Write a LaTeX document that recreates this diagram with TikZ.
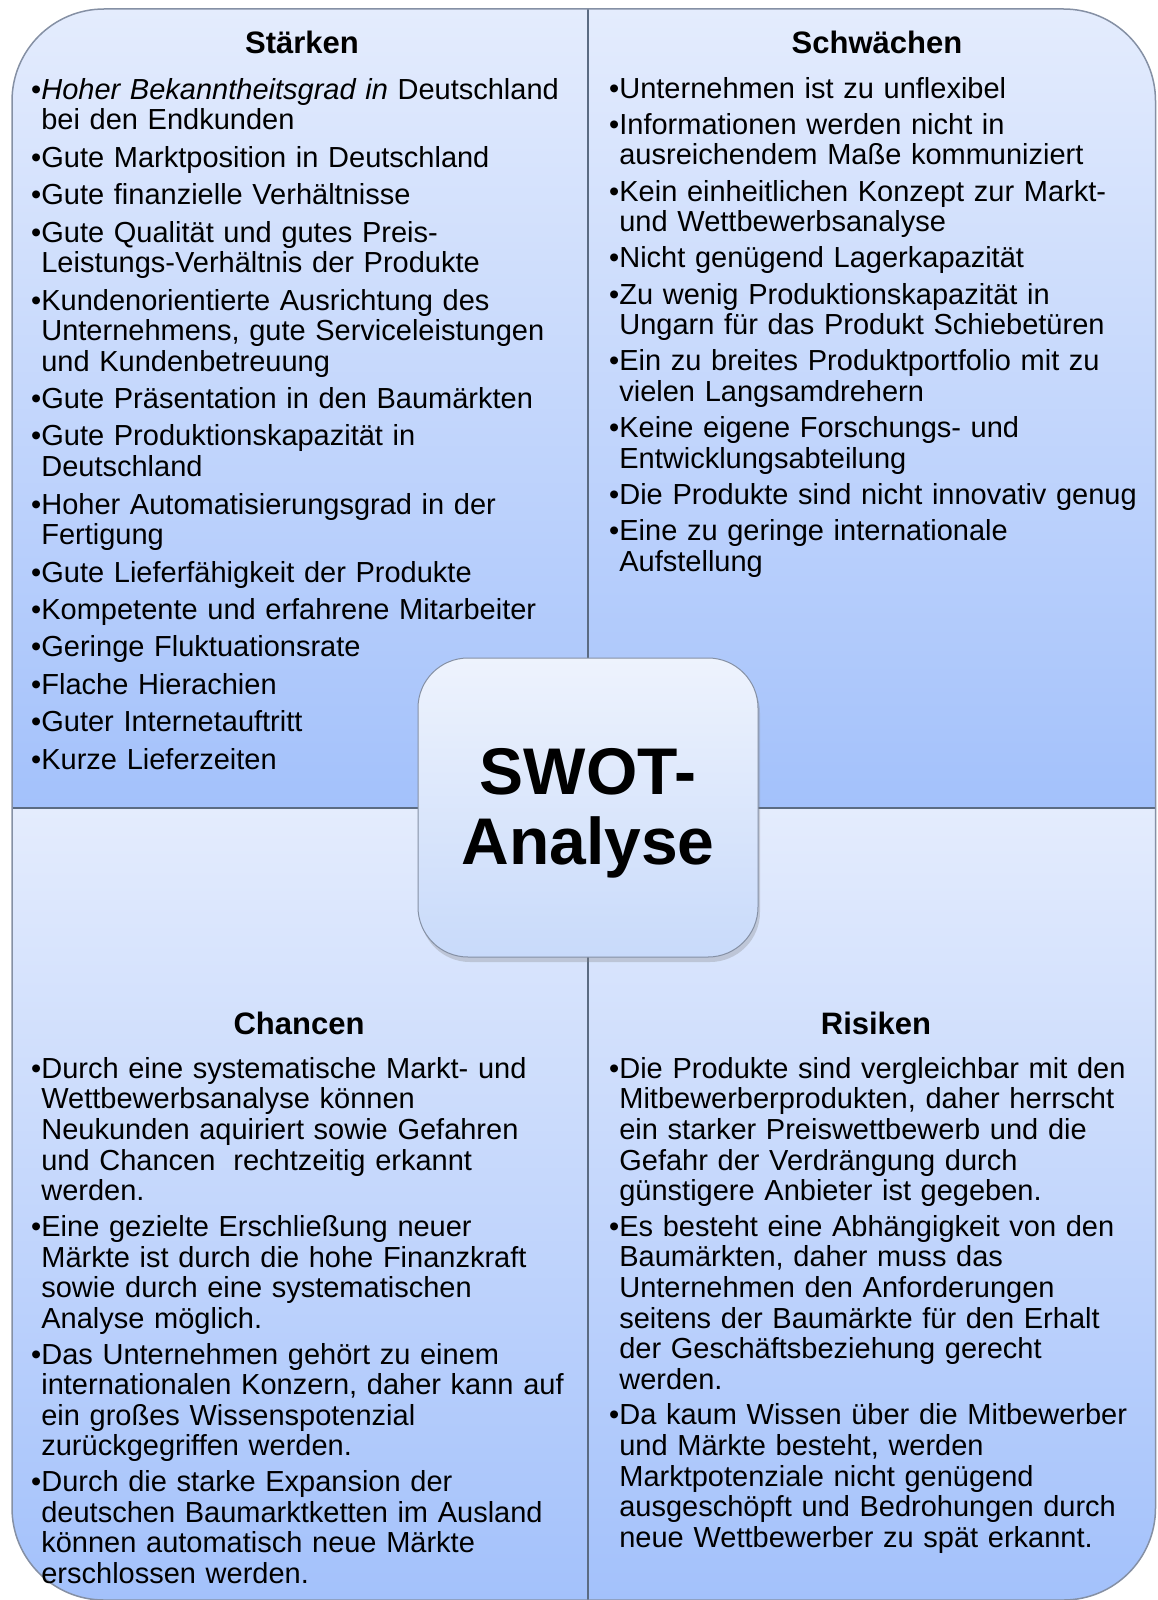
\documentclass[tikz,border=0pt]{standalone}
\usepackage{fontspec}
\setmainfont{Liberation Sans}
\usetikzlibrary{shadows}
\definecolor{qtop}{HTML}{E4ECFD}
\definecolor{qbot}{HTML}{A3C1FB}
\definecolor{btop}{HTML}{EEF3FD}
\definecolor{bbot}{HTML}{C8DAFA}
\definecolor{divline}{HTML}{5B6B82}
\definecolor{edgecol}{HTML}{8590A4}
\newlength{\bulw}
\newlength{\itsep}
\newcommand{\qfont}{\fontsize{29}{30.6}\selectfont}
\newcommand{\fitm}[1]{\noindent\settowidth{\bulw}{•}\hangindent=\bulw\hangafter=1 •\rule{0pt}{25pt}#1\par}
\newcommand{\itm}[1]{\vspace{\itsep}\noindent\settowidth{\bulw}{•}\hangindent=\bulw\hangafter=1 •#1\par}
\tikzset{
  qtext/.style={anchor=north west, inner sep=0pt, text width=560pt, align=left, font=\qfont},
  qtitle/.style={anchor=base, inner sep=0pt, font=\fontsize{31}{34}\selectfont\bfseries},
  quadfill/.style={top color=qtop, bottom color=qbot},
  centerbox/.style={rounded corners=50pt, draw=edgecol, line width=1pt, top color=btop, bottom color=bbot,
    minimum width=340pt, minimum height=299pt, inner sep=0pt,
    drop shadow={opacity=0.3, shadow xshift=2pt, shadow yshift=-5pt}},
  divider/.style={draw=divline, line width=2pt}
}
\begin{document}
\begin{tikzpicture}[x=1pt,y=-1pt]
\useasboundingbox (0,0) rectangle (1157,1600);
% quadrants
\begin{scope}
  \clip[rounded corners=92pt] (12,9) rectangle (1155.5,1600);
  \shade[quadfill] (12,9) rectangle (588,808);
  \shade[quadfill] (588,9) rectangle (1157,808);
  \shade[quadfill] (12,808) rectangle (588,1600);
  \shade[quadfill] (588,808) rectangle (1157,1600);
  \draw[divider] (588,0) -- (588,1600);
  \draw[divider] (0,808) -- (1157,808);
\end{scope}
\draw[edgecol, line width=1.5pt, rounded corners=92pt] (12,9) rectangle (1155.5,1600);
% titles
\node[qtitle] (t1) at (302,54) {Stärken};
\node[qtitle] (t2) at (877,54) {Schwächen};
\node[qtitle] (t3) at (299,1034) {Chancen};
\node[qtitle] (t4) at (876,1034) {Risiken};
% texts
\node[qtext] (s) at (31,74) {\setlength{\itsep}{6.8pt}%
\fitm{\textit{Hoher Bekanntheitsgrad in} Deutschland\newline bei den Endkunden}
\itm{Gute Marktposition in Deutschland}
\itm{Gute finanzielle Verhältnisse}
\itm{Gute Qualität und gutes Preis-\newline Leistungs-Verhältnis der Produkte}
\itm{Kundenorientierte Ausrichtung des\newline Unternehmens, gute Serviceleistungen\newline und Kundenbetreuung}
\itm{Gute Präsentation in den Baumärkten}
\itm{Gute Produktionskapazität in\newline Deutschland}
\itm{Hoher Automatisierungsgrad in der\newline Fertigung}
\itm{Gute Lieferfähigkeit der Produkte}
\itm{Kompetente und erfahrene Mitarbeiter}
\itm{Geringe Fluktuationsrate}
\itm{Flache Hierachien}
\itm{Guter Internetauftritt}
\itm{Kurze Lieferzeiten}};
\node[qtext] (w) at (609,73) {\setlength{\itsep}{5.6pt}%
\fitm{Unternehmen ist zu unflexibel}
\itm{Informationen werden nicht in\newline ausreichendem Maße kommuniziert}
\itm{Kein einheitlichen Konzept zur Markt-\newline und Wettbewerbsanalyse}
\itm{Nicht genügend Lagerkapazität}
\itm{Zu wenig Produktionskapazität in\newline Ungarn für das Produkt Schiebetüren}
\itm{Ein zu breites Produktportfolio mit zu\newline vielen Langsamdrehern}
\itm{Keine eigene Forschungs- und\newline Entwicklungsabteilung}
\itm{Die Produkte sind nicht innovativ genug}
\itm{Eine zu geringe internationale\newline Aufstellung}};
\node[qtext] (o) at (31,1053) {\setlength{\itsep}{5.2pt}%
\fitm{Durch eine systematische Markt- und\newline Wettbewerbsanalyse können\newline Neukunden aquiriert sowie Gefahren\newline und Chancen\hspace{18pt}rechtzeitig erkannt\newline werden.}
\itm{Eine gezielte Erschließung neuer\newline Märkte ist durch die hohe Finanzkraft\newline sowie durch eine systematischen\newline Analyse möglich.}
\itm{Das Unternehmen gehört zu einem\newline internationalen Konzern, daher kann auf\newline ein großes Wissenspotenzial\newline zurückgegriffen werden.}
\itm{Durch die starke Expansion der\newline deutschen Baumarktketten im Ausland\newline können automatisch neue Märkte\newline erschlossen werden.}};
\node[qtext] (r) at (609,1053) {\setlength{\itsep}{5.0pt}%
\fitm{Die Produkte sind vergleichbar mit den\newline Mitbewerberprodukten, daher herrscht\newline ein starker Preiswettbewerb und die\newline Gefahr der Verdrängung durch\newline günstigere Anbieter ist gegeben.}
\itm{Es besteht eine Abhängigkeit von den\newline Baumärkten, daher muss das\newline Unternehmen den Anforderungen\newline seitens der Baumärkte für den Erhalt\newline der Geschäftsbeziehung gerecht\newline werden.}
\itm{Da kaum Wissen über die Mitbewerber\newline und Märkte besteht, werden\newline Marktpotenziale nicht genügend\newline ausgeschöpft und Bedrohungen durch\newline neue Wettbewerber zu spät erkannt.}};
% centre box
\node[centerbox] (box) at (588,807.5) {};
\node[inner sep=0pt, align=center, font=\fontsize{66}{70}\selectfont\bfseries] (swot) at (588,813) {SWOT-\\Analyse};
\end{tikzpicture}
\end{document}
